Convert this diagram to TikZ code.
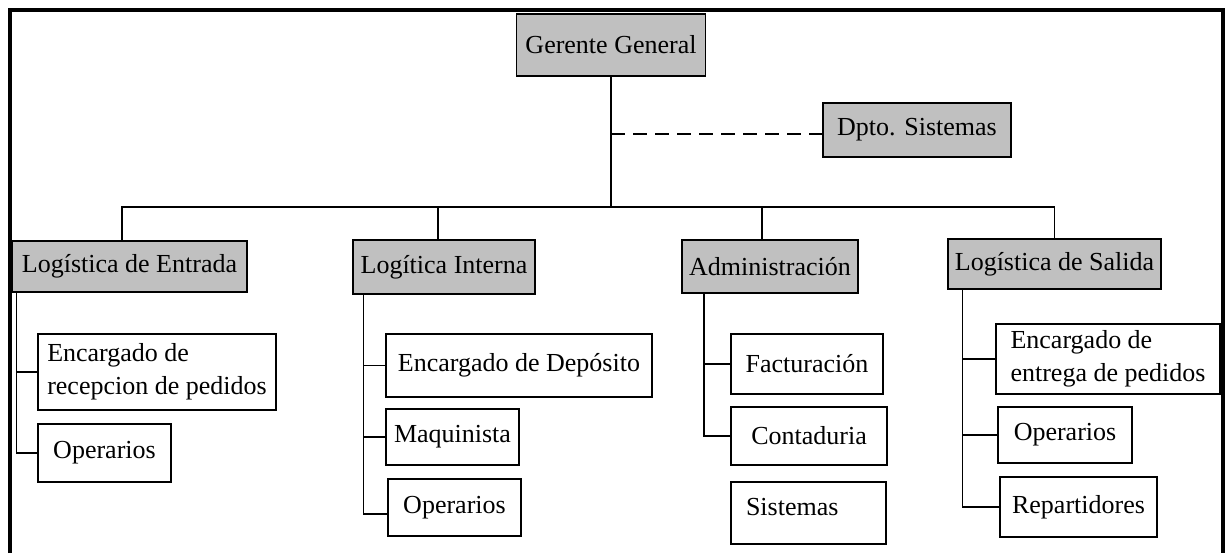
\documentclass[tikz,border=0pt]{standalone}
\usepackage{fontspec}
\setmainfont{Liberation Serif}
\usetikzlibrary{calc}
\definecolor{gris}{RGB}{192,192,192}
\tikzset{every picture/.style={line width=0.75pt}}
\tikzset{
  jefe/.style={draw, fill=gris, line width=1.1pt, inner xsep=3pt, inner ysep=2pt},
  puesto/.style={draw, fill=white, line width=1.1pt, inner xsep=3pt, inner ysep=2pt, align=left},
  rama/.style={line width=1.1pt},
  staff/.style={line width=1.1pt, dash pattern=on 10.5pt off 6pt}
}

\begin{document}
\begin{tikzpicture}[x=0.75pt,y=0.75pt,yscale=-1,xscale=1,font=\fontsize{19.5}{25}\selectfont]
\useasboundingbox (0,0) rectangle (1226,553);

%Frame
\draw [line width=3pt] (9.5,553) -- (9.5,10) -- (1223,10) -- (1223,553) ;

%Top
\node [jefe, minimum width=141.75pt, minimum height=46.5pt] (gerente) at (611,45) {Gerente General};
\node [jefe, minimum width=141pt, minimum height=40.5pt] (dpto) at (917,130) {Dpto. Sistemas};
\coordinate (bus) at (611,207);
\coordinate (guion) at ($(dpto.west)+(0,4)$);

%Areas
\node [jefe, minimum width=176.25pt, minimum height=38.25pt] (entrada) at (129.5,266.5) {Logística de Entrada};
\node [jefe, minimum width=136.5pt, minimum height=40.5pt] (interna) at (444,267) {Logítica Interna};
\node [jefe, minimum width=132pt, minimum height=39.75pt] (admin) at (770,266.5) {Administración};
\node [jefe, minimum width=159.75pt, minimum height=37.5pt] (salida) at (1054.5,264) {Logística de Salida};

%Logistica de entrada
\node [puesto, minimum width=178.5pt, minimum height=57pt] (e1) at (157,372) {Encargado de\\recepcion de pedidos};
\node [puesto, minimum width=99.75pt, minimum height=43.5pt] (e2) at (104.5,453) {Operarios};

%Logistica interna
\node [puesto, minimum width=199.5pt, minimum height=47.25pt] (i1) at (519,365.5) {Encargado de Depósito};
\node [puesto, minimum width=99.75pt, minimum height=42pt] (i2) at (452.5,437) {Maquinista};
\node [puesto, minimum width=99.75pt, minimum height=42.75pt] (i3) at (454.5,507.5) {Operarios};

%Administracion
\node [puesto, minimum width=114pt, minimum height=45pt] (a1) at (807,364) {Facturación};
\node [puesto, minimum width=117pt, minimum height=43.5pt] (a2) at (809,436) {Contaduria};
\node [puesto, text width=93.75pt, inner xsep=11.25pt, minimum height=46.5pt, text depth=9pt] (a3) at (808.5,513) {Sistemas};

%Logistica de salida
\node [puesto, minimum width=168pt, minimum height=52.5pt] (s1) at (1108,359) {Encargado de\\entrega de pedidos};
\node [puesto, minimum width=100.5pt, minimum height=42pt] (s2) at (1065,435) {Operarios};
\node [puesto, minimum width=117.75pt, minimum height=45pt] (s3) at (1078.5,507) {Repartidores};

%Straight Lines
\draw [rama] (gerente.south) -- (bus) ;
\draw [staff] (guion -| bus) -- (guion) ;
\draw [rama] ($(entrada.north)+(-7.5,0)$) |- (bus) ;
\draw [rama] ($(interna.north)+(-6,0)$) |- (bus) ;
\draw [rama] ($(admin.north)+(-8,0)$) |- (bus) ;
\draw [rama] (salida.north) |- (bus) ;

%Branches
\draw [rama] ($(entrada.south west)+(5,0)$) |- (e1.west) ;
\draw [rama] ($(entrada.south west)+(5,0)$) |- (e2.west) ;
\draw [rama] ($(interna.south west)+(11,0)$) |- (i1.west) ;
\draw [rama] ($(interna.south west)+(11,0)$) |- (i2.west) ;
\draw [rama] ($(interna.south west)+(11,0)$) |- ($(i3.west)+(0,6.5)$) ;
\draw [rama] ($(admin.south west)+(22.5,0)$) |- (a1.west) ;
\draw [rama] ($(admin.south west)+(22.5,0)$) |- (a2.west) ;
\draw [rama] ($(salida.south west)+(15,0)$) |- (s1.west) ;
\draw [rama] ($(salida.south west)+(15,0)$) |- (s2.west) ;
\draw [rama] ($(salida.south west)+(15,0)$) |- (s3.west) ;

\end{tikzpicture}
\end{document}
